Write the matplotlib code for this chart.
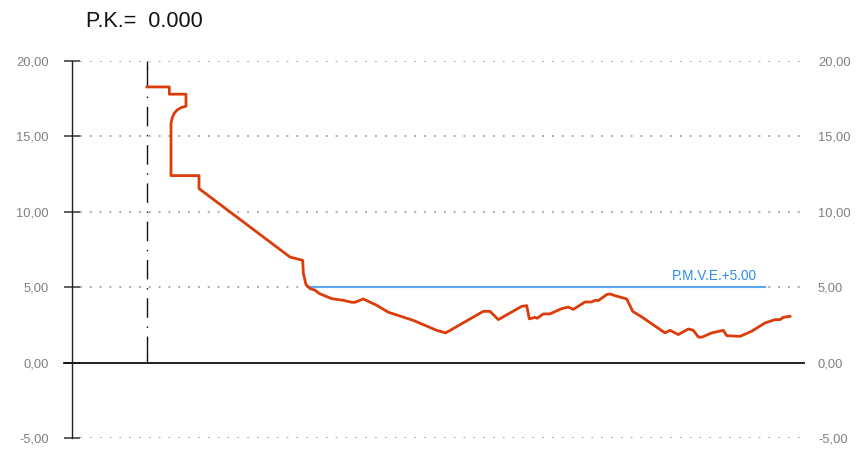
import matplotlib
matplotlib.use("Agg")
import matplotlib.pyplot as plt

plt.rcParams['font.family'] = ['Liberation Sans', 'DejaVu Sans']

# Profile (distance from axis, elevation)
prof_x = [0.0, 2.23, 2.23, 3.9, 3.9, 3.4, 3.0, 2.7, 2.5, 2.4, 2.4, 2.4, 5.2, 5.2,
          14.3, 15.57, 15.63, 15.9, 16.3, 16.8, 17.23, 18.47, 19.63, 20.47, 20.8,
          21.63, 22.97, 24.13, 26.63, 28.97, 29.87, 33.63, 34.3, 35.13, 37.47,
          37.97, 38.23, 38.8, 39.03, 39.63, 40.3, 41.47, 42.13, 42.63, 43.8, 44.47,
          44.8, 45.13, 45.97, 46.3, 46.8, 47.97, 48.57, 49.47, 51.8, 52.3, 53.13,
          54.13, 54.63, 55.13, 55.47, 56.47, 57.63, 57.97, 59.3, 60.47, 61.8, 62.8,
          63.3, 63.63, 64.3]
prof_y = [18.28, 18.28, 17.8, 17.8, 17.0, 16.91, 16.74, 16.51, 16.18, 15.85, 15.58,
          12.4, 12.4, 11.54, 7.0, 6.78, 5.95, 5.17, 4.91, 4.8, 4.58, 4.24, 4.13, 4.0,
          4.0, 4.22, 3.8, 3.34, 2.8, 2.14, 1.97, 3.4, 3.4, 2.85, 3.73, 3.78, 2.9, 3.0,
          2.94, 3.23, 3.23, 3.58, 3.68, 3.53, 4.02, 4.02, 4.13, 4.11, 4.51, 4.55,
          4.44, 4.22, 3.4, 3.03, 1.97, 2.14, 1.86, 2.23, 2.14, 1.7, 1.68, 1.97,
          2.14, 1.79, 1.74, 2.08, 2.63, 2.85, 2.85, 3.0, 3.07]

pmve_x = [16.1, 61.8]
pmve_level = 5.0
pmve_label = "P.M.V.E.+5.00"
title = "P.K.=  0.000"

yticks = [-5, 0, 5, 10, 15, 20]
ytick_labels = ["-5,00", "0,00", "5,00", "10,00", "15,00", "20,00"]
xlim = (-7.5, 65.7)
axis_top, axis_bottom = 20, 0

fig = plt.figure(figsize=(8.56, 4.51), dpi=100)
ax = fig.add_axes([72/856, 13/451, 732/856, 377/451])
ax.set_xlim(*xlim)
ax.set_ylim(-5, 20)

for s in ['top', 'right', 'bottom']:
    ax.spines[s].set_visible(False)
ax.spines['left'].set_color('#222222')
ax.spines['left'].set_linewidth(1.0)

ax.set_xticks([])
ax.set_yticks(yticks)
ax.set_yticklabels(ytick_labels)
ax.tick_params(axis='y', direction='inout', length=11.5, width=1.2, color='#444444',
               labelsize=9.3, labelcolor='#808080', pad=11)

# dotted grid
for v in yticks:
    if v == 0:
        continue
    ax.axhline(v, xmin=8/732, xmax=0.995, color='#9a9a9a', lw=1.2,
               linestyle=(0, (1.1, 4.8)), zorder=1)

# zero line
ax.axhline(0, xmin=-8/732, xmax=1.0, color='#111111', lw=1.3, clip_on=False, zorder=2)

# center axis dash-dot
ax.plot([0, 0], [axis_top, axis_bottom], color='#111111', lw=1.0,
        linestyle=(22.5, (14.04, 6.19, 1.08, 6.26)), zorder=2)
ax.plot([0, 0], [axis_top, axis_top - 0.5], color='#111111', lw=1.0, zorder=2,
        solid_capstyle='butt')
ax.plot([0, 0], [axis_bottom, axis_bottom + 0.5], color='#111111', lw=1.0, zorder=2,
        solid_capstyle='butt')

# right labels
ax2 = ax.twinx()
ax2.set_ylim(-5, 20)
for s in ax2.spines.values():
    s.set_visible(False)
ax2.set_yticks(yticks)
ax2.set_yticklabels(ytick_labels)
ax2.tick_params(axis='y', length=0, labelsize=9.3, labelcolor='#808080', pad=10)

# PMVE line
ax.plot(pmve_x, [pmve_level, pmve_level], color='#5aa6f2', lw=1.5, zorder=3)
ax.text(61.0, pmve_level + 0.45, pmve_label, color='#2b8cf0', fontsize=9.8,
        ha='right', va='baseline', zorder=4)

# profile
ax.plot(prof_x, prof_y, color='#dc3c0a', lw=2.0, zorder=5, solid_joinstyle='round')

fig.text(86/856, 1 - 27/451, title, fontsize=15.5, color='#111111', va='baseline', ha='left')

fig.savefig("out.png", dpi=100)
